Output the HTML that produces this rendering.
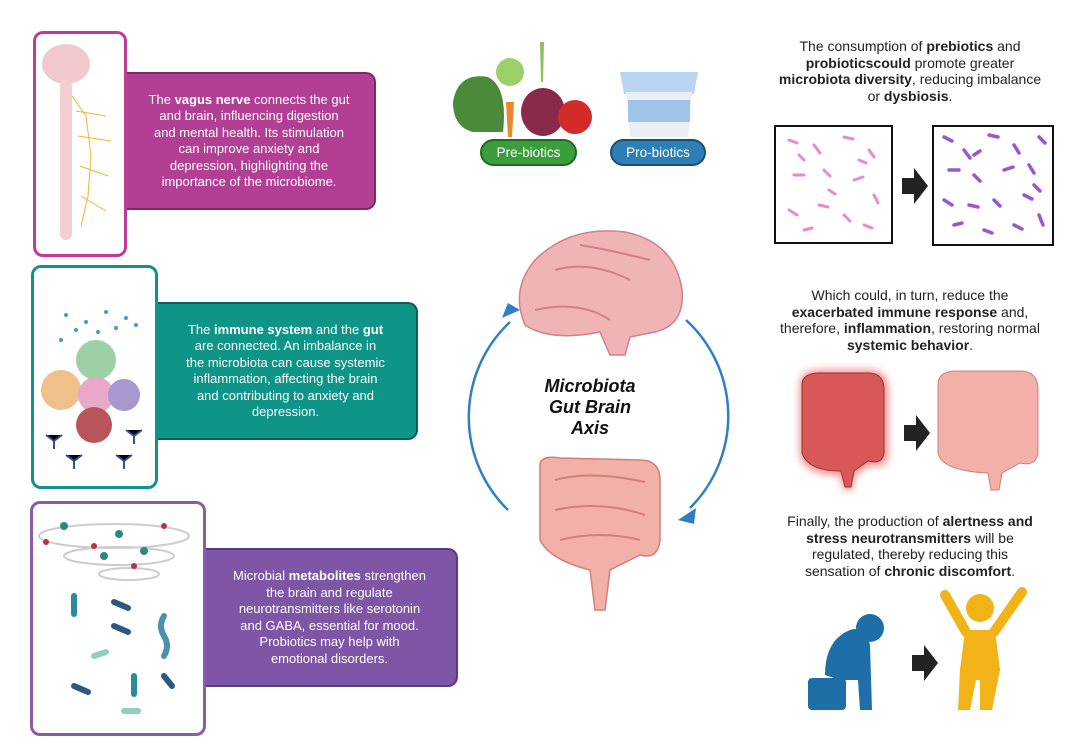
<!DOCTYPE html>
<html><head><meta charset="utf-8"><style>
body{margin:0;width:1080px;height:756px;background:#fff;position:relative;overflow:hidden;font-family:"Liberation Sans",sans-serif}
.abs{position:absolute}
.frame{position:absolute;border:3px solid;border-radius:10px;background:#fff;box-sizing:border-box}
.tb{position:absolute;border-radius:0 10px 10px 0;color:#fff;font-size:13px;line-height:16.5px;text-align:center;display:flex;align-items:center;justify-content:center;box-sizing:border-box;padding:0 4px;white-space:nowrap}
.rt{position:absolute;font-size:14px;line-height:16.5px;text-align:center;color:#222;white-space:nowrap}
.pill{position:absolute;border-radius:14px;color:#fff;font-size:13.5px;display:flex;align-items:center;justify-content:center;box-sizing:border-box;border:2px solid}
</style></head><body>

<div class="tb" style="left:124px;top:72px;width:252px;height:138px;background:#b23f94;border:2px solid #7a2a66;border-left:none"><div>The <b>vagus nerve</b> connects the gut<br>and brain, influencing digestion<br>and mental health. Its stimulation<br>can improve anxiety and<br>depression, highlighting the<br>importance of the microbiome.</div></div>
<div class="frame" style="left:33px;top:31px;width:94px;height:226px;border-color:#c23a97"></div>
<svg class="abs" style="left:36px;top:36px" width="90" height="216">
<ellipse cx="30" cy="28" rx="24" ry="20" fill="#f2c9cf"/>
<rect x="24" y="44" width="12" height="160" rx="6" fill="#f3cfd4"/>
<g stroke="#e8b830" stroke-width="1" fill="none"><path d="M36 60 L50 80 L55 120 L52 160 L45 190"/><path d="M40 75 L70 80"/><path d="M42 100 L75 105"/><path d="M44 130 L72 140"/><path d="M45 160 L70 175"/></g>
</svg>

<div class="tb" style="left:155px;top:302px;width:263px;height:138px;background:#0f9488;border:2px solid #0b5f57;border-left:none"><div>The <b>immune system</b> and the <b>gut</b><br>are connected. An imbalance in<br>the microbiota can cause systemic<br>inflammation, affecting the brain<br>and contributing to anxiety and<br>depression.</div></div>
<div class="frame" style="left:31px;top:265px;width:127px;height:224px;border-color:#14918a"></div>
<svg class="abs" style="left:36px;top:270px" width="118" height="214">
<g fill="#3a9fd0"><circle cx="30" cy="45" r="2"/><circle cx="50" cy="52" r="2"/><circle cx="70" cy="42" r="2"/><circle cx="90" cy="48" r="2"/><circle cx="40" cy="60" r="2"/><circle cx="62" cy="62" r="2"/><circle cx="80" cy="58" r="2"/><circle cx="100" cy="55" r="2"/><circle cx="25" cy="70" r="2"/><circle cx="55" cy="75" r="2"/></g>
<circle cx="60" cy="90" r="20" fill="#9ed0a8"/><circle cx="25" cy="120" r="20" fill="#f0c08a"/><circle cx="60" cy="125" r="18" fill="#e8a8c8"/><circle cx="88" cy="125" r="16" fill="#a898d0"/><circle cx="58" cy="155" r="18" fill="#b8555a"/>
<g stroke="#3050a0" stroke-width="2"><path d="M10 165 l8 6 l8 -6 M18 171 v8"/><path d="M90 160 l8 6 l8 -6 M98 166 v8"/><path d="M30 185 l8 6 l8 -6 M38 191 v8"/><path d="M80 185 l8 6 l8 -6 M88 191 v8"/></g>
</svg>

<div class="tb" style="left:203px;top:548px;width:255px;height:139px;background:#7f55a6;border:2px solid #5a3a7a;border-left:none"><div>Microbial <b>metabolites</b> strengthen<br>the brain and regulate<br>neurotransmitters like serotonin<br>and GABA, essential for mood.<br>Probiotics may help with<br>emotional disorders.</div></div>
<div class="frame" style="left:30px;top:501px;width:176px;height:235px;border-color:#8a5ba8"></div>
<svg class="abs" style="left:34px;top:506px" width="168" height="226">
<g fill="none" stroke="#ccc" stroke-width="2"><ellipse cx="80" cy="30" rx="75" ry="12"/><ellipse cx="85" cy="50" rx="55" ry="9"/><ellipse cx="95" cy="68" rx="30" ry="6"/></g>
<g fill="#2a8a7a"><circle cx="30" cy="20" r="4"/><circle cx="85" cy="28" r="4"/><circle cx="110" cy="45" r="4"/><circle cx="70" cy="50" r="4"/></g>
<g fill="#c03040"><circle cx="12" cy="36" r="3"/><circle cx="60" cy="40" r="3"/><circle cx="100" cy="60" r="3"/><circle cx="130" cy="20" r="3"/></g>
<g stroke-linecap="round" stroke-width="6"><path d="M40 90 v18" stroke="#2a8aa0"/><path d="M80 96 l14 6" stroke="#2a5a80"/><path d="M80 120 l14 6" stroke="#2a5a80"/><path d="M130 110 q-6 10 0 20 q6 10 0 20" stroke="#4a90b0" fill="none"/><path d="M100 170 v18" stroke="#2a8aa0"/><path d="M40 180 l14 6" stroke="#2a5a80"/><path d="M60 150 l12 -4" stroke="#8fd0c0"/><path d="M130 170 l8 10" stroke="#2a5a80"/><path d="M90 205 l14 0" stroke="#8fd0c0"/></g>
</svg>

<svg class="abs" style="left:448px;top:32px" width="270" height="110">
<path d="M5 70 Q10 40 40 45 Q60 55 55 100 L25 100 Q5 95 5 70Z" fill="#4a8a3a"/>
<path d="M58 70 L66 70 L64 105 L60 105Z" fill="#e8892a"/><circle cx="62" cy="40" r="14" fill="#9ccf6a"/>
<path d="M92 10 L96 10 L95 50 L93 50Z" fill="#8ac060"/>
<ellipse cx="95" cy="80" rx="22" ry="24" fill="#8a2a4a"/>
<circle cx="127" cy="85" r="17" fill="#d32a2a"/>
<path d="M172 40 L250 40 L246 62 L176 62Z" fill="#b8d4f0"/>
<path d="M178 60 L244 60 L240 105 L182 105Z" fill="#e8eef4"/>
<rect x="180" y="68" width="62" height="22" fill="#9ec4ea"/>
</svg>
<div class="pill" style="left:480px;top:139px;width:97px;height:27px;background:#3c9d3c;border-color:#1f6a1f">Pre-biotics</div>
<div class="pill" style="left:610px;top:139px;width:96px;height:27px;background:#2d7fb5;border-color:#1a4f75">Pro-biotics</div>

<svg class="abs" style="left:460px;top:210px" width="300" height="420">
<path d="M65 115 Q50 80 75 50 Q110 15 165 22 Q215 32 222 80 Q225 115 195 122 L170 127 L165 145 L150 145 L140 122 Q90 132 65 115Z" fill="#f0b4b6" stroke="#d08088" stroke-width="1.5"/>
<path d="M75 100 Q120 90 150 110 M95 60 Q130 50 170 70 M120 35 Q150 40 190 50" stroke="#d08088" fill="none" stroke-width="2"/>
<path d="M80 255 Q80 245 100 248 L180 250 Q200 250 200 270 L200 330 Q198 350 180 345 L150 360 L145 400 L135 400 L130 360 Q90 350 80 330Z" fill="#f2b0a8" stroke="#d08078" stroke-width="1.5"/>
<path d="M95 270 Q130 260 185 272 M95 300 Q140 290 185 305 M100 330 Q140 320 180 330" stroke="#d08078" fill="none" stroke-width="2"/>
<path d="M48 300 A130 130 0 0 1 50 112" stroke="#2f7fc4" stroke-width="2.5" fill="none"/>
<path d="M60 100 L42 108 L48 93Z" fill="#2f7fc4"/>
<path d="M226 110 A130 130 0 0 1 230 298" stroke="#2f7fc4" stroke-width="2.5" fill="none"/>
<path d="M218 310 L236 298 L234 314Z" fill="#2f7fc4"/>
</svg>
<div class="abs" style="left:520px;top:376px;width:140px;text-align:center;font-weight:bold;font-style:italic;font-size:18px;line-height:21px;color:#111">Microbiota<br>Gut Brain<br>Axis</div>

<div class="rt" style="left:760px;top:38px;width:300px">The consumption of <b>prebiotics</b> and<br><b>probioticscould</b> promote greater<br><b>microbiota diversity</b>, reducing imbalance<br>or <b>dysbiosis</b>.</div>
<svg class="abs" style="left:774px;top:125px" width="282" height="122">
<rect x="1" y="1" width="117" height="117" fill="#fff" stroke="#111" stroke-width="2"/>
<rect x="159" y="1" width="120" height="119" fill="#fff" stroke="#111" stroke-width="2"/>
<g stroke="#e88ad0" stroke-width="3" stroke-linecap="round"><path d="M15 15 l8 3 M40 20 l6 8 M70 12 l9 2 M95 25 l5 7 M20 50 l10 0 M50 45 l6 6 M80 55 l9 -3 M100 70 l4 8 M15 85 l8 5 M45 80 l9 2 M70 90 l6 6 M30 105 l8 -2 M90 100 l8 3 M55 65 l6 4 M25 30 l5 5 M85 35 l7 3"/></g>
<path d="M128 53 h12 v-10 l14 18 l-14 18 v-10 h-12Z" fill="#222"/>
<g stroke="#9a55d0" stroke-width="3.5" stroke-linecap="round"><path d="M170 12 l8 4 M190 25 l6 8 M215 10 l9 2 M240 20 l5 8 M265 12 l6 6 M175 45 l10 0 M200 50 l6 6 M230 45 l9 -3 M255 40 l5 8 M170 75 l8 5 M195 80 l9 2 M220 75 l6 6 M250 70 l8 4 M180 100 l8 -2 M210 105 l8 3 M240 100 l8 4 M265 90 l4 10 M200 30 l6 -4 M260 60 l6 6"/></g>
</svg>
<div class="rt" style="left:760px;top:287px;width:300px">Which could, in turn, reduce the<br><b>exacerbated immune response</b> and,<br>therefore, <b>inflammation</b>, restoring normal<br><b>systemic behavior</b>.</div>
<svg class="abs" style="left:780px;top:355px" width="270" height="145">
<defs><filter id="g"><feGaussianBlur stdDeviation="4"/></filter></defs>
<path d="M20 30 Q20 15 40 15 L90 15 Q108 15 108 35 L108 100 Q106 115 90 110 L75 120 L72 135 L64 135 L60 120 Q25 120 20 100Z" fill="#e04040" filter="url(#g)" opacity=".6"/>
<path d="M22 30 Q22 18 40 18 L88 18 Q104 18 104 35 L104 98 Q102 110 88 106 L74 116 L71 132 L65 132 L61 116 Q28 116 22 98Z" fill="#d85858" stroke="#a03030"/>
<path d="M124 70 h12 v-10 l14 18 l-14 18 v-10 h-12Z" fill="#222"/>
<path d="M158 30 Q158 16 176 16 L240 16 Q258 16 258 35 L258 98 Q256 112 240 108 L222 118 L219 135 L211 135 L208 118 Q162 116 158 98Z" fill="#f2b0a8" stroke="#d08078"/>
</svg>
<div class="rt" style="left:760px;top:513px;width:300px">Finally, the production of <b>alertness and</b><br><b>stress neurotransmitters</b> will be<br>regulated, thereby reducing this<br>sensation of <b>chronic discomfort</b>.</div>
<svg class="abs" style="left:800px;top:580px" width="240" height="135">
<rect x="8" y="98" width="38" height="32" rx="4" fill="#1e6fa8"/>
<path d="M25 95 Q25 60 50 50 Q65 45 70 65 L72 130 L60 130 L58 100 L40 100Z" fill="#1e6fa8"/>
<circle cx="70" cy="48" r="14" fill="#1e6fa8"/>
<path d="M112 75 h12 v-10 l14 18 l-14 18 v-10 h-12Z" fill="#222"/>
<circle cx="180" cy="28" r="14" fill="#f2b318"/>
<path d="M165 50 L195 50 L200 90 L192 130 L180 130 L180 100 L176 100 L170 130 L158 130 L160 90Z" fill="#f2b318"/>
<path d="M166 52 L145 15 M194 52 L222 12" stroke="#f2b318" stroke-width="10" stroke-linecap="round"/>
</svg>
</body></html>
